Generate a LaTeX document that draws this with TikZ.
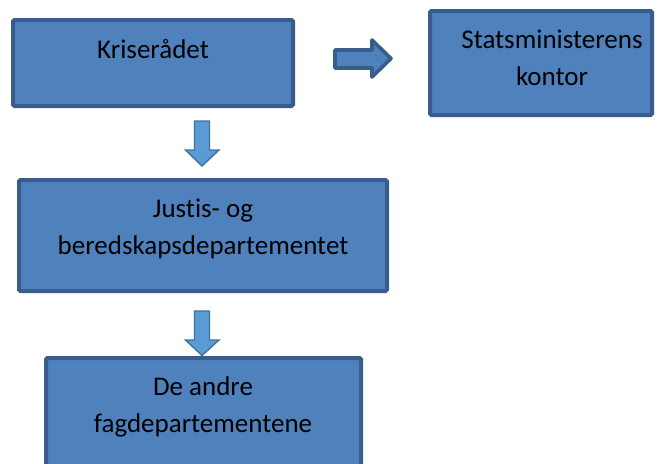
\documentclass[tikz,border=0pt]{standalone}
\usepackage{fontspec}
\setmainfont[RawFeature={-liga}]{Carlito}
\definecolor{boxfill}{HTML}{4F81BD}
\definecolor{boxline}{HTML}{385D8A}
\definecolor{arrfill}{HTML}{5B9BD5}
\definecolor{arrline}{HTML}{41719C}
\tikzset{
  orgbox/.style={fill=boxfill, draw=boxline, line width=4pt, rounded corners=1.5pt},
  downarr/.style={fill=arrfill, draw=arrline, line width=1.4pt, line join=miter},
  rightarr/.style={fill=boxfill, draw=boxline, line width=3.6pt, line join=round},
  lbl/.style={align=center, inner sep=0pt, anchor=base, font=\fontsize{27}{36.5}\selectfont, text=black}
}
\begin{document}
\begin{tikzpicture}[x=1pt, y=-1pt]
\useasboundingbox (0,0) rectangle (666,463);
\clip (0,0) rectangle (666,463);
% boxes
\draw[orgbox] (13,20) rectangle (293,106);
\draw[orgbox] (430,11) rectangle (652,115);
\draw[orgbox] (19,180) rectangle (387,291);
\draw[orgbox] (46,358) rectangle (361,480);
% labels
\node[lbl] (kr) at (153,58) {Kriserådet};
\node[lbl] (sm) at (552,85) {Statsministerens\\kontor};
\node[lbl] (jb) at (203,254) {Justis- og\\beredskapsdepartementet};
\node[lbl] (fd) at (203,432) {De andre\\fagdepartementene};
% block arrows
\draw[rightarr] (335,50) -- (372,50) -- (372,40) -- (391,58.5) -- (372,77) -- (372,68) -- (335,68) -- cycle;
\draw[downarr] (194.5,121) -- (209.5,121) -- (209.5,150) -- (219,150) -- (202,166) -- (185.5,150) -- (194.5,150) -- cycle;
\draw[downarr] (194.5,311) -- (209.5,311) -- (209.5,340) -- (219,340) -- (202,355.5) -- (185.5,340) -- (194.5,340) -- cycle;
\end{tikzpicture}
\end{document}
